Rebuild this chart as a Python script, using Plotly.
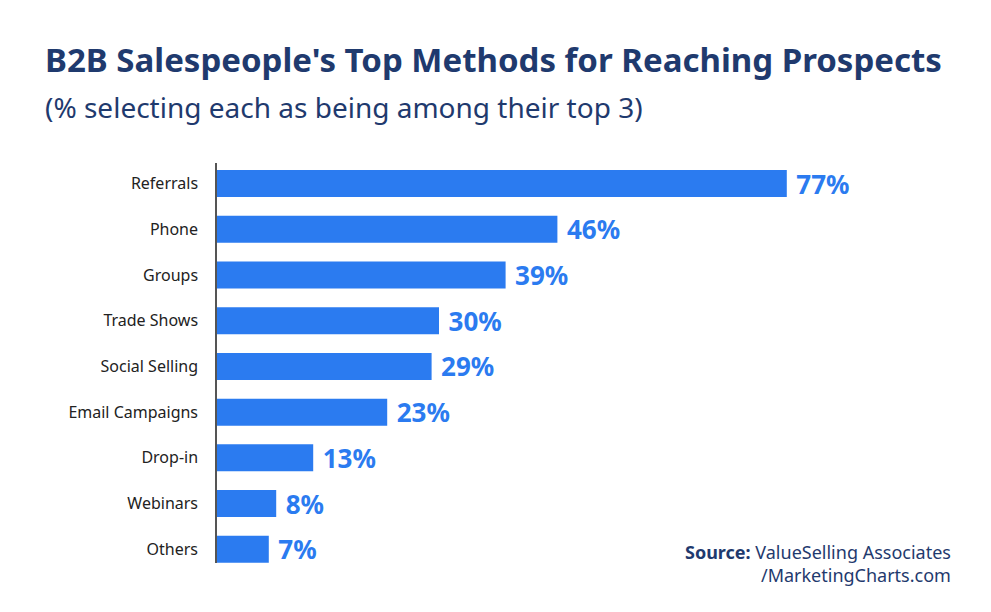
import plotly.graph_objects as go

# data
methods = ['Referrals', 'Phone', 'Groups', 'Trade Shows', 'Social Selling',
           'Email Campaigns', 'Drop-in', 'Webinars', 'Others']
share = [77, 46, 39, 30, 29, 23, 13, 8, 7]

TITLE = "B2B Salespeople's Top Methods for Reaching Prospects"
SUBTITLE = "(% selecting each as being among their top 3)"

NAVY = '#1f3a6e'
BLUE = '#2b7bf0'
FONT = 'Noto Sans'

# the page body has an 8px margin, so the figure is drawn 8px in
OFF = 8
W, H = 991 - OFF, 612 - OFF
L, T = 217 - OFF, 163 - OFF
R, B = W - (957 - OFF), H - (563 - OFF)
pw, ph = W - L - R, H - T - B


def px(x):
    return (x - OFF - L) / pw


def py(y):
    return (H - B - (y - OFF)) / ph


fig = go.Figure(
    go.Bar(
        x=share, y=methods, orientation='h',
        marker=dict(color=BLUE, line_width=0),
        text=[f'\u2005{v}%' for v in share],
        textposition='outside',
        constraintext='none',
        textfont=dict(family=FONT, size=26, color=BLUE, weight='bold'),
        cliponaxis=False,
        hoverinfo='skip',
    )
)

fig.update_layout(
    width=W, height=H,
    margin=dict(l=L, r=R, t=T, b=B, pad=0),
    paper_bgcolor='white', plot_bgcolor='white',
    bargap=0.41,
    showlegend=False,
    font=dict(family=FONT, color='#222222'),
    xaxis=dict(range=[0, 100], visible=False, fixedrange=True),
    yaxis=dict(
        range=[8.3, -0.45],
        showline=True, linecolor='#555555', linewidth=1.5,
        showgrid=False, ticks='', ticklabelstandoff=14,
        tickfont=dict(family=FONT, size=16, color='#222222'),
        fixedrange=True,
    ),
    annotations=[
        dict(text=f'<b>{TITLE}</b>', xref='paper', yref='paper',
             x=px(43), y=py(60), xanchor='left', yanchor='middle',
             showarrow=False, font=dict(family=FONT, size=33, color=NAVY)),
        dict(text=SUBTITLE, xref='paper', yref='paper',
             x=px(43), y=py(107), xanchor='left', yanchor='middle',
             showarrow=False, font=dict(family=FONT, size=28, color=NAVY)),
        dict(text='<b>Source:</b> ValueSelling Associates<br>/MarketingCharts.com',
             xref='paper', yref='paper', x=px(953), y=py(563),
             xanchor='right', yanchor='middle', align='right',
             showarrow=False, font=dict(family=FONT, size=18, color=NAVY)),
    ],
)

fig.write_html("out.html")
